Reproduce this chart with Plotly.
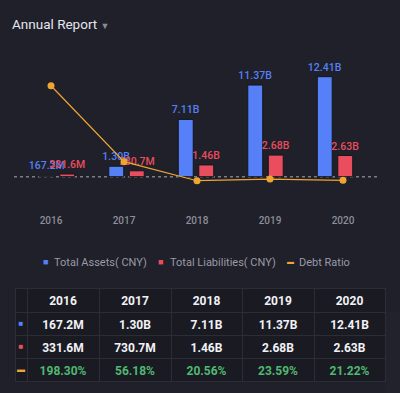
import plotly.graph_objects as go

years = ["2016", "2017", "2018", "2019", "2020"]
assets = [0.1672, 1.30, 7.11, 11.37, 12.41]          # billions CNY
liabilities = [0.3316, 0.7307, 1.46, 2.68, 2.63]     # billions CNY
debt_ratio = [198.30, 56.18, 20.56, 23.59, 21.22]    # percent
assets_lbl = ["167.2M", "1.30B", "7.11B", "11.37B", "12.41B"]
liab_lbl = ["331.6M", "730.7M", "1.46B", "2.68B", "2.63B"]
ratio_lbl = ["198.30%", "56.18%", "20.56%", "23.59%", "21.22%"]
legend_names = ["Total Assets( CNY)", "Total Liabilities( CNY)", "Debt Ratio"]

BG = "#1f2029"
TBG = "#1a1b22"
BORDER = "#2c2d35"
BLUE = "#5580f8"
RED = "#ea4d5e"
ORANGE = "#f0a531"
GREEN = "#4fb872"
W = 400.0
H = 393.0
FONT = "Roboto"

fig = go.Figure()
fig.add_trace(go.Bar(x=years, y=assets, text=assets_lbl, textposition="outside",
                     marker=dict(color=BLUE, line=dict(color="#15161c", width=1)),
                     textfont=dict(color=BLUE, size=10.5, family=FONT, weight=500),
                     cliponaxis=False, constraintext="none", showlegend=False,
                     xaxis="x", yaxis="y"))
fig.add_trace(go.Bar(x=years, y=liabilities, text=liab_lbl, textposition="outside",
                     marker=dict(color=RED, line=dict(color="#15161c", width=1)),
                     textfont=dict(color=RED, size=10.5, family=FONT, weight=500),
                     cliponaxis=False, constraintext="none", showlegend=False,
                     xaxis="x", yaxis="y"))
fig.add_trace(go.Scatter(x=years, y=debt_ratio, mode="lines+markers",
                         line=dict(color=ORANGE, width=1.2),
                         marker=dict(color=ORANGE, size=7),
                         cliponaxis=False, showlegend=False,
                         xaxis="x2", yaxis="y2"))

# plot area from y=60 to y=210 px
ytop, ybot = 60, 210
base1, ppb = 176.7, 8.06
base2, ppp = 191.7, 0.5345
y1_range = [-(ybot - base1) / ppb, (base1 - ytop) / ppb]
y2_range = [-(ybot - base2) / ppp, (base2 - ytop) / ppp]

fig.update_layout(
    width=400, height=393,
    paper_bgcolor=BG, plot_bgcolor="rgba(0,0,0,0)",
    margin=dict(l=0, r=0, t=0, b=0),
    font=dict(family=FONT, color="#9a9aa6"),
    barmode="group", bargap=0.41, bargroupgap=0.27,
    title=dict(text="Annual Report <span style='font-size:9px;color:#8a8a96'>▼</span>",
               x=12 / W, xanchor="left", y=1 - 24 / H, yanchor="middle",
               font=dict(size=13.5, color="#e6e6ee", family=FONT)),
    xaxis=dict(domain=[22.25 / W, 369.75 / W], anchor="y", showticklabels=False,
               showgrid=False, zeroline=False, showline=False, range=[-0.5, 4.5],
               categoryorder="array", categoryarray=years),
    xaxis2=dict(domain=[14.5 / W, 379.5 / W], anchor="y2", showgrid=False,
                zeroline=False, showline=False, ticks="", range=[-0.5, 4.5],
                tickfont=dict(size=10, color="#8e8e9a", family=FONT, weight=500),
                categoryorder="array", categoryarray=years, ticklabelstandoff=3),
    yaxis=dict(domain=[1 - ybot / H, 1 - ytop / H], range=y1_range, visible=False),
    yaxis2=dict(domain=[1 - ybot / H, 1 - ytop / H], range=y2_range, visible=False,
                anchor="x2"),
)

# dotted baseline
fig.add_shape(type="line", xref="paper", yref="y", x0=14 / W, x1=380 / W, y0=0, y1=0,
              line=dict(color="#7c7c88", width=1.5, dash="dot"), layer="below")

# legend (drawn as text items)
leg_y = 1 - 262 / H
leg_items = [(45, 52, BLUE, "■", legend_names[0], 9),
             (160.7, 168, RED, "■", legend_names[1], 9),
             (290, 297, ORANGE, "▬", legend_names[2], 7)]
for sx, tx, col, sym, name, ssz in leg_items:
    fig.add_annotation(x=sx / W, y=leg_y, xref="paper", yref="paper", text=sym,
                       showarrow=False, font=dict(color=col, size=ssz),
                       xanchor="center", yanchor="middle")
    fig.add_annotation(x=tx / W, y=leg_y, xref="paper", yref="paper", text=name,
                       showarrow=False, font=dict(color="#9a9aa6", size=11, family=FONT),
                       xanchor="left", yanchor="middle")

# table
first_col = ["■", "■", "▬"]
cell_vals = [first_col] + [[assets_lbl[i], liab_lbl[i], ratio_lbl[i]] for i in range(5)]
first_colors = [BLUE, RED, ORANGE]
data_colors = ["#f2f2f6", "#f2f2f6", GREEN]
font_colors = [first_colors] + [data_colors] * 5
font_sizes = [8, 12, 12, 12, 12, 12]

fig.add_trace(go.Table(
    domain=dict(x=[15 / W, 385 / W], y=[0.0, 1 - 288 / H]),
    columnwidth=[12, 72, 72, 71, 72, 71],
    header=dict(values=[""] + years, height=24, align="center",
                fill=dict(color=TBG), line=dict(color=BORDER, width=1),
                font=dict(color="#f2f2f6", size=12, family=FONT, weight="bold")),
    cells=dict(values=cell_vals, height=23, align="center",
               fill=dict(color=TBG), line=dict(color=BORDER, width=1),
               font=dict(color=font_colors, size=font_sizes, family=FONT, weight="bold")),
))

fig.write_html("out.html", config={"displayModeBar": False},
               post_script="document.body.style.margin='0';"
                           "document.body.style.background='#1f2029';")
